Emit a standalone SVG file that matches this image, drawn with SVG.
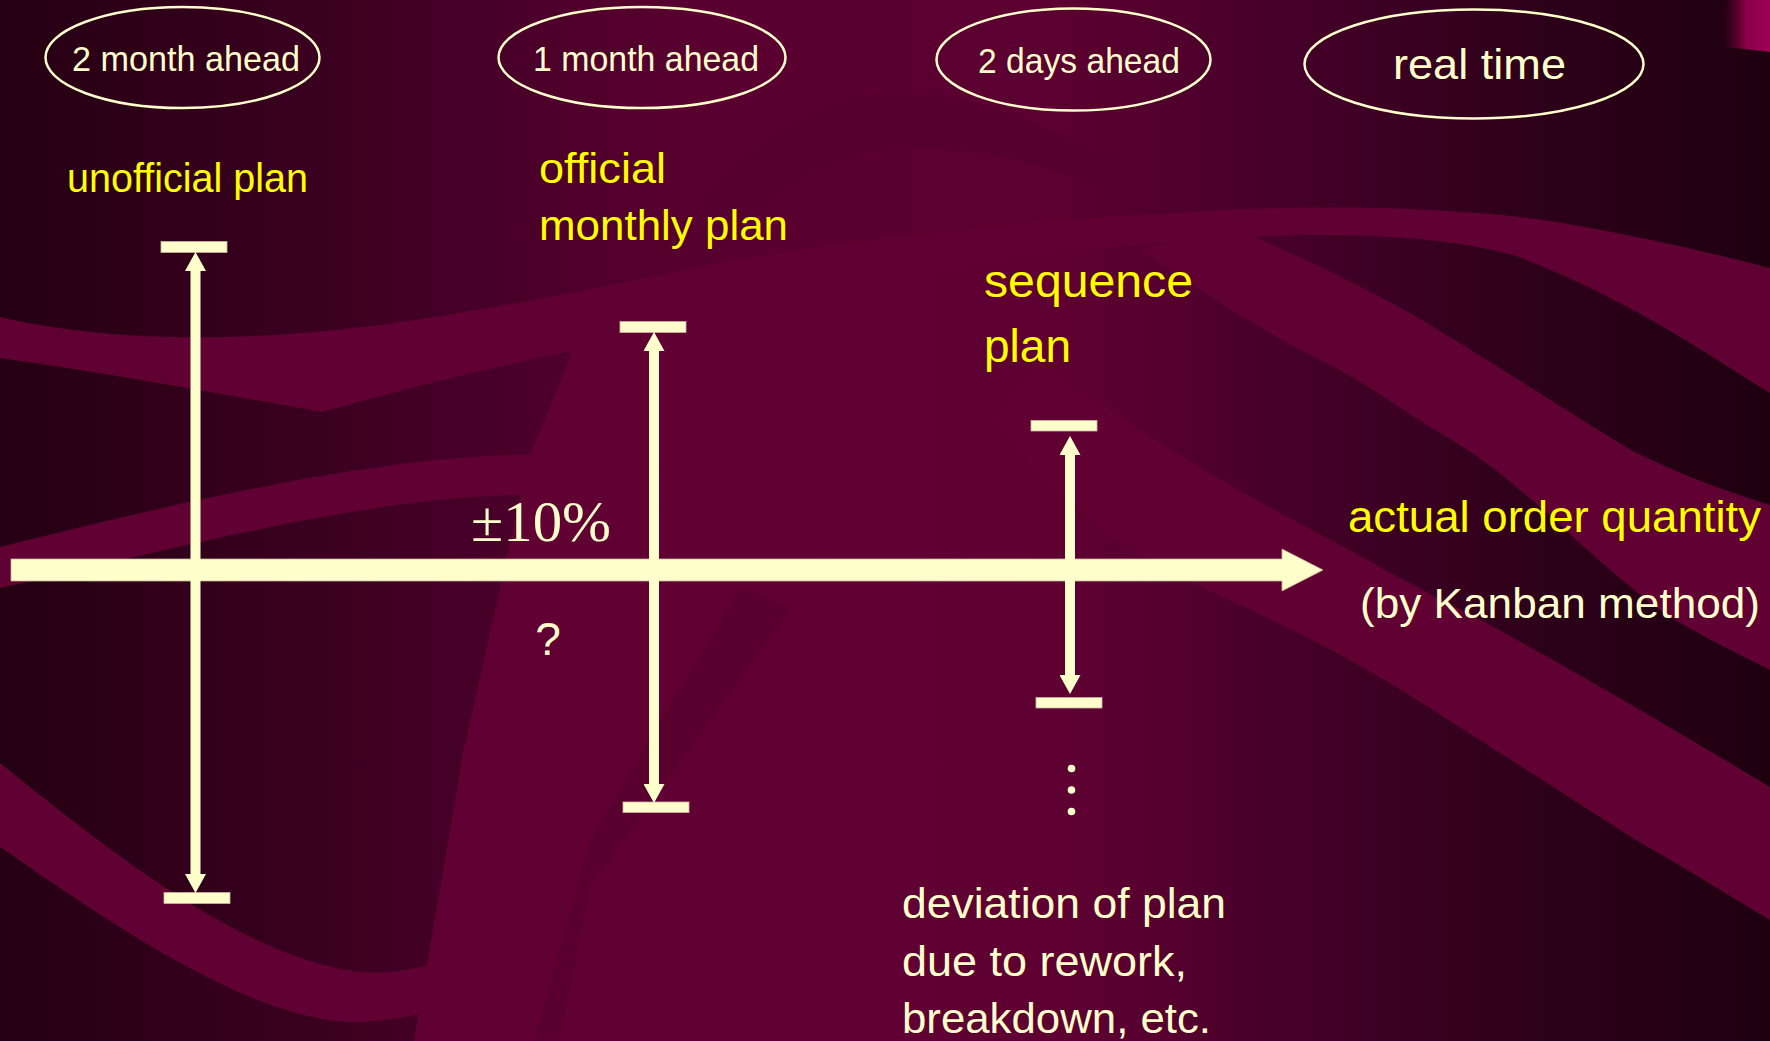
<svg xmlns="http://www.w3.org/2000/svg" width="1770" height="1041" viewBox="0 0 1770 1041">
<defs>
<style>
.sans{font-family:"Liberation Sans",Arial,sans-serif;}
.serif{font-family:"Liberation Serif","Times New Roman",serif;}
.cream{fill:#FFFFCC;}
.yel{fill:#FFFF00;}
.ell{fill:none;stroke:#FFFFCC;stroke-width:2.5;}
.cap{fill:#FFFFCC;stroke:#C8B49C;stroke-width:0.8;}
.shaft{stroke:#FFFFCC;stroke-width:10;fill:none;}
.band{fill:#600033;}
.darkband{fill:#55002e;}
.faint{fill:#5a0030;}
</style>
<linearGradient id="bgGrad" gradientUnits="userSpaceOnUse" x1="0" y1="0" x2="1770" y2="0">
<stop offset="0" stop-color="#250012"/>
<stop offset="0.12" stop-color="#33001b"/>
<stop offset="0.28" stop-color="#480028"/>
<stop offset="0.4" stop-color="#5a0030"/>
<stop offset="0.6" stop-color="#5b0030"/>
<stop offset="0.72" stop-color="#47002a"/>
<stop offset="0.85" stop-color="#30001b"/>
<stop offset="1" stop-color="#1e000f"/>
</linearGradient>
<linearGradient id="centerGrad" gradientUnits="userSpaceOnUse" x1="400" y1="0" x2="1250" y2="0">
<stop offset="0" stop-color="#600033"/>
<stop offset="0.6" stop-color="#600033"/>
<stop offset="1" stop-color="#600033" stop-opacity="0"/>
</linearGradient>
<linearGradient id="cornerGrad" gradientUnits="userSpaceOnUse" x1="1722" y1="0" x2="1770" y2="0">
<stop offset="0" stop-color="#5a0030" stop-opacity="0"/>
<stop offset="0.5" stop-color="#8a0048"/>
<stop offset="1" stop-color="#a00055"/>
</linearGradient>
<marker id="ah" viewBox="0 0 19 21" refX="0" refY="10.5" markerWidth="19" markerHeight="21" markerUnits="userSpaceOnUse" orient="auto-start-reverse">
<path d="M0,0 L19,10.5 L0,21 Z" fill="#FFFFCC"/>
</marker>
</defs>

<g id="background">
<rect x="0" y="0" width="1770" height="1041" fill="url(#bgGrad)"/>
<path class="darkband" d="M650,290 C700,170 800,95 891,93 C980,92 1060,130 1150,180 L1130,200 C1050,165 1000,150 920,148 C820,148 740,210 700,290 Z"/>
<path d="M590,300 C570,360 545,420 530,455 L463,753 L414,1041 L1250,1041 L1250,220 L1180,215 C1080,216 950,230 800,252 C700,266 640,285 590,300 Z" fill="url(#centerGrad)"/>
<path class="band" d="M0,317 C120,345 280,345 470,311 C600,290 700,265 800,250 C950,230 1080,216 1180,213 C1300,204 1450,205 1556,222 C1650,238 1720,255 1770,268 L1770,393 C1700,350 1630,300 1519,257 C1450,235 1330,232 1255,237 C1150,242 1050,252 1000,262 C900,280 750,315 600,345 C500,365 400,390 322,412 C200,390 100,372 0,358 Z"/>
<path class="band" d="M0,547 C150,510 350,460 510,455 C650,452 760,495 830,530 L830,560 C760,520 640,495 520,495 C370,497 190,545 0,588 Z"/>
<path class="band" d="M0,763 C120,860 250,960 360,972 C400,975 440,965 500,940 L530,975 C460,1008 400,1022 350,1022 C250,1018 120,930 0,847 Z"/>
<path class="faint" d="M740,587 L793,607 L590,887 L560,1041 L534,1041 L590,840 Z"/>
<path class="band" d="M1200,236 L1255,237 C1330,270 1400,305 1443,333 C1520,380 1590,425 1631,450 C1690,480 1740,495 1770,505 L1770,670 C1720,645 1680,625 1650,603 C1610,570 1580,545 1556,520 C1530,500 1500,470 1460,445 C1400,410 1368,383 1320,360 C1260,330 1200,290 1140,250 Z"/>
<path class="band" d="M1040,360 C1120,420 1200,470 1293,520 C1360,555 1420,590 1481,620 C1600,685 1700,745 1770,787 L1770,920 C1720,890 1680,865 1631,837 C1550,785 1480,740 1406,693 C1320,640 1250,610 1180,577 C1100,540 1040,480 990,420 Z"/>
<path d="M1770,0 L1728,0 C1721,15 1721,35 1727,47 L1770,52 Z" fill="url(#cornerGrad)"/>
</g>

<g id="connectors">
<path id="time-axis" d="M11,559 H1282 V549 L1323,570 L1282,591 V581 H11 Z" fill="#FFFFCC" stroke="#C8B49C" stroke-width="0.8"/>
<g id="range-unofficial">
<rect class="cap" x="161" y="241.5" width="66" height="11"/>
<rect class="cap" x="164" y="892.5" width="66" height="11"/>
<line class="shaft" x1="195.5" y1="271" x2="195.5" y2="874" marker-start="url(#ah)" marker-end="url(#ah)"/>
</g>
<g id="range-monthly">
<rect class="cap" x="620" y="321.5" width="66" height="11"/>
<rect class="cap" x="623" y="802" width="66" height="10.5"/>
<line class="shaft" x1="654" y1="351" x2="654" y2="784" marker-start="url(#ah)" marker-end="url(#ah)"/>
</g>
<g id="range-sequence">
<rect class="cap" x="1031" y="420.5" width="66" height="10.5"/>
<rect class="cap" x="1036" y="697.5" width="66" height="10.5"/>
<line class="shaft" x1="1070" y1="455" x2="1070" y2="675" marker-start="url(#ah)" marker-end="url(#ah)"/>
</g>
</g>

<g id="node-2-month-ahead">
<ellipse class="ell" cx="182.5" cy="57.5" rx="137" ry="50.5"/>
<text class="sans cream" x="72" y="71" font-size="35" textLength="228" lengthAdjust="spacingAndGlyphs">2 month ahead</text>
</g>
<g id="node-1-month-ahead">
<ellipse class="ell" cx="642" cy="57.5" rx="143.5" ry="50.5"/>
<text class="sans cream" x="533" y="71" font-size="35" textLength="226" lengthAdjust="spacingAndGlyphs">1 month ahead</text>
</g>
<g id="node-2-days-ahead">
<ellipse class="ell" cx="1073.5" cy="59.5" rx="137" ry="51"/>
<text class="sans cream" x="978" y="73" font-size="35" textLength="202" lengthAdjust="spacingAndGlyphs">2 days ahead</text>
</g>
<g id="node-real-time">
<ellipse class="ell" cx="1474" cy="64" rx="169.5" ry="54.5"/>
<text class="sans cream" x="1393" y="79" font-size="42" textLength="173" lengthAdjust="spacingAndGlyphs">real time</text>
</g>

<g id="node-unofficial-plan">
<text class="sans yel" x="67" y="192" font-size="40" textLength="241" lengthAdjust="spacingAndGlyphs">unofficial plan</text>
</g>
<g id="node-official-monthly-plan">
<text class="sans yel" x="539" y="183" font-size="42" textLength="127" lengthAdjust="spacingAndGlyphs">official</text>
<text class="sans yel" x="539" y="240" font-size="42" textLength="249" lengthAdjust="spacingAndGlyphs">monthly plan</text>
</g>
<g id="node-sequence-plan">
<text class="sans yel" x="984" y="297" font-size="46" textLength="209" lengthAdjust="spacingAndGlyphs">sequence</text>
<text class="sans yel" x="984" y="362" font-size="46" textLength="87" lengthAdjust="spacingAndGlyphs">plan</text>
</g>
<g id="node-actual-order">
<text class="sans yel" x="1348" y="532" font-size="44" textLength="413" lengthAdjust="spacingAndGlyphs">actual order quantity</text>
<text class="sans cream" x="1360" y="618" font-size="43" textLength="400" lengthAdjust="spacingAndGlyphs">(by Kanban method)</text>
</g>
<g id="node-tolerance">
<text class="serif cream" x="471" y="541" font-size="56" textLength="140" lengthAdjust="spacingAndGlyphs">±10%</text>
</g>
<g id="node-question">
<text class="sans cream" x="548" y="655" font-size="46" text-anchor="middle">?</text>
</g>
<g id="node-deviation">
<circle class="cream" cx="1071.5" cy="768.5" r="3.8"/>
<circle class="cream" cx="1071.5" cy="790" r="3.8"/>
<circle class="cream" cx="1071.5" cy="811.5" r="3.8"/>
<text class="sans cream" x="902" y="918" font-size="43" textLength="324" lengthAdjust="spacingAndGlyphs">deviation of plan</text>
<text class="sans cream" x="902" y="976" font-size="43" textLength="285" lengthAdjust="spacingAndGlyphs">due to rework,</text>
<text class="sans cream" x="902" y="1033" font-size="43" textLength="309" lengthAdjust="spacingAndGlyphs">breakdown, etc.</text>
</g>
</svg>
